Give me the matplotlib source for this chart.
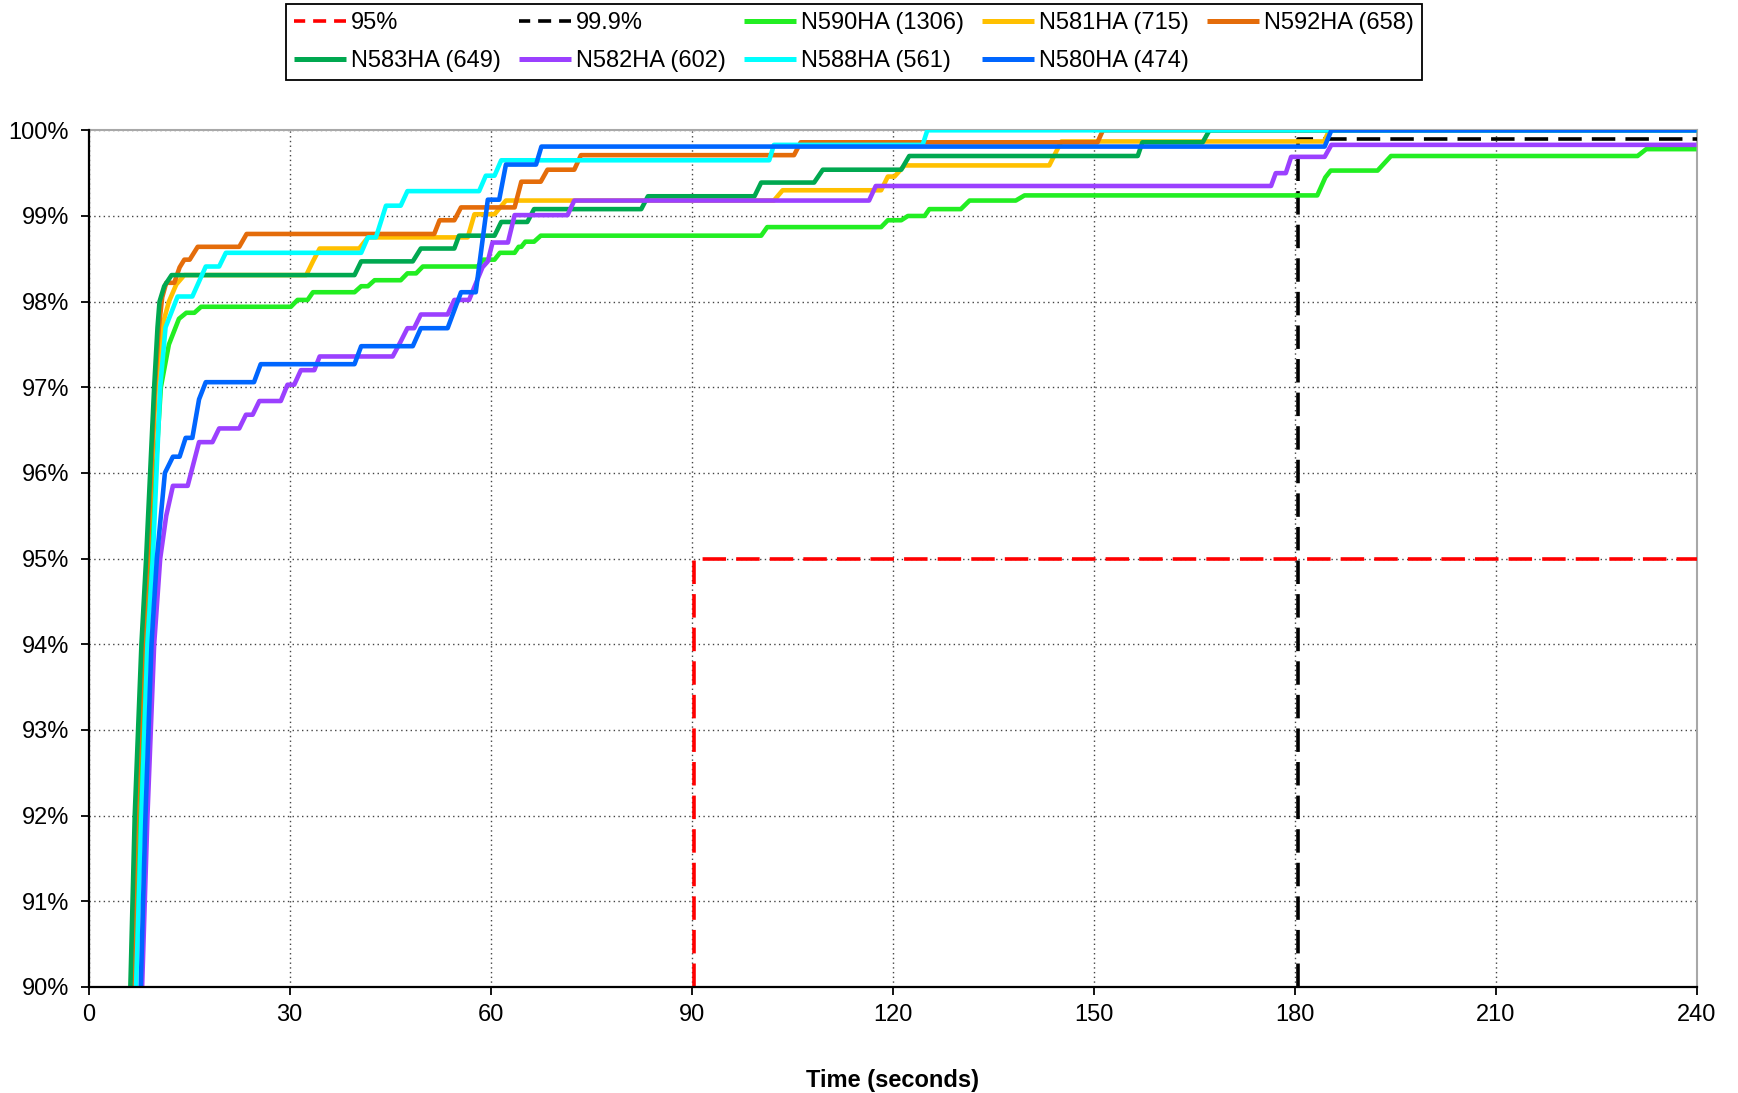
import matplotlib
matplotlib.use("Agg")
import matplotlib.pyplot as plt
from matplotlib import font_manager

try:
    font_manager.findfont('Liberation Sans Narrow', fallback_to_default=False)
    FAM = ['Liberation Sans Narrow', 'DejaVu Sans']
    FS = 20
except Exception:
    FAM = ['Liberation Sans', 'DejaVu Sans']
    FS = 17
plt.rcParams['font.family'] = FAM

# ---------------- data ----------------
x_ticks = [0, 30, 60, 90, 120, 150, 180, 210, 240]
y_ticks = [90, 91, 92, 93, 94, 95, 96, 97, 98, 99, 100]
y_tick_labels = ['90%', '91%', '92%', '93%', '94%', '95%', '96%', '97%', '98%', '99%', '100%']
x_label = 'Time (seconds)'

ref95_label = '95%'
ref95_time = 90.4
ref95_level = 95
ref999_label = '99.9%'
ref999_time = 180.5
ref999_level = 99.9

n590_label = 'N590HA (1306)'
n590_t = [6.9, 7.7, 8.6, 9.4, 10.0, 10.8, 12.0, 13.5, 14.6, 15.8, 16.8, 30.2, 31.2, 32.7, 33.5, 39.7,
          40.7, 41.7, 42.7, 46.6, 47.6, 48.9, 49.9, 58.1, 58.9, 60.6, 61.4, 63.6, 64.2, 64.6, 65.2, 66.5,
          67.5, 100.4, 101.3, 118.3, 119.3, 121.3, 122.3, 124.8, 125.5, 130.2, 131.5, 138.4, 139.7,
          183.4, 184.6, 185.4, 192.4, 194.4, 231.2, 232.5, 240]
n590_v = [90, 92, 94, 95, 96, 97, 97.5, 97.8, 97.87, 97.87, 97.94, 97.94, 98.02, 98.02, 98.11, 98.11,
          98.18, 98.18, 98.25, 98.25, 98.33, 98.33, 98.41, 98.41, 98.49, 98.49, 98.57, 98.57, 98.64, 98.64, 98.7, 98.7,
          98.77, 98.77, 98.87, 98.87, 98.95, 98.95, 99.0, 99.0, 99.08, 99.08, 99.18, 99.18, 99.24,
          99.24, 99.45, 99.53, 99.53, 99.7, 99.7, 99.78, 99.78]

n581_label = 'N581HA (715)'
n581_t = [6.35, 7.05, 8.05, 8.8, 9.4, 10.05, 11.1, 12.0, 13.1, 14.3, 32.5, 33.5, 34.5, 40.4, 41.7, 56.6,
          57.6, 60.6, 62.3, 102.3, 103.6, 118.3, 119.3, 120.3, 121.8, 143.4, 145.2, 184.4, 185.2, 240]
n581_v = [90, 92, 94, 95, 96, 97, 97.74, 98.0, 98.2, 98.31, 98.31, 98.47, 98.62, 98.62, 98.75, 98.75,
          99.02, 99.02, 99.18, 99.18, 99.3, 99.3, 99.46, 99.46, 99.59, 99.59, 99.87, 99.87, 100, 100]

n592_label = 'N592HA (658)'
n592_t = [6.45, 7.1, 8.1, 8.8, 9.35, 9.9, 10.5, 11.0, 11.6, 12.8, 13.6, 14.3, 15.1, 16.3, 22.5, 23.6,
          51.6, 52.4, 54.6, 55.6, 63.6, 64.6, 67.5, 68.5, 72.5, 73.5, 105.3, 106.3, 150.6, 151.4, 240]
n592_v = [90, 92, 94, 95, 96, 97, 97.7, 98.05, 98.22, 98.22, 98.4, 98.49, 98.49, 98.64, 98.64, 98.79,
          98.79, 98.95, 98.95, 99.1, 99.1, 99.4, 99.4, 99.54, 99.54, 99.71, 99.71, 99.86, 99.86, 100, 100]

n583_label = 'N583HA (649)'
n583_t = [6.25, 6.9, 7.9, 8.6, 9.2, 9.8, 10.3, 10.6, 11.3, 12.4, 39.7, 40.7, 48.4, 49.6, 54.6, 55.3,
          60.6, 61.6, 65.5, 66.5, 82.5, 83.5, 99.4, 100.4, 108.3, 109.6, 121.3, 122.5, 156.6, 157.3,
          166.3, 167.3, 240]
n583_v = [90, 92, 94, 95, 96, 97, 97.7, 98, 98.18, 98.31, 98.31, 98.47, 98.47, 98.62, 98.62, 98.77,
          98.77, 98.93, 98.93, 99.08, 99.08, 99.23, 99.23, 99.39, 99.39, 99.54, 99.54, 99.7, 99.7, 99.86,
          99.86, 100, 100]

n582_label = 'N582HA (602)'
n582_t = [8.0, 8.8, 9.8, 10.7, 11.6, 12.6, 14.8, 15.3, 16.5, 18.5, 19.5, 22.5, 23.5, 24.5, 25.5, 28.7,
          29.7, 30.7, 31.7, 33.7, 34.5, 45.4, 46.5, 47.6, 48.6, 49.6, 53.6, 54.6, 56.8, 58.8, 59.6, 60.3,
          62.6, 63.6, 71.5, 72.5, 116.5, 117.5, 176.5, 177.2, 178.7, 179.5, 184.5, 185.5, 240]
n582_v = [90, 92, 94, 95, 95.5, 95.85, 95.85, 96.0, 96.36, 96.36, 96.52, 96.52, 96.68, 96.68, 96.84, 96.84,
          97.03, 97.03, 97.2, 97.2, 97.36, 97.36, 97.52, 97.69, 97.69, 97.85, 97.85, 98.02, 98.02, 98.4, 98.47, 98.69,
          98.69, 99.01, 99.01, 99.18, 99.18, 99.35, 99.35, 99.5, 99.5, 99.69, 99.69, 99.83, 99.83]

n588_label = 'N588HA (561)'
n588_t = [7.1, 7.9, 8.8, 9.6, 10.15, 10.7, 11.5, 13.3, 15.5, 17.5, 19.5, 20.5, 40.7, 41.7, 42.9, 44.4,
          46.6, 47.6, 58.3, 59.3, 60.6, 61.6, 101.6, 102.3, 124.5, 125.2, 240]
n588_v = [90, 92, 94, 95, 96, 97, 97.7, 98.06, 98.06, 98.41, 98.41, 98.57, 98.57, 98.75, 98.75, 99.12,
          99.12, 99.29, 99.29, 99.47, 99.47, 99.65, 99.65, 99.83, 99.83, 100, 100]

n580_label = 'N580HA (474)'
n580_t = [7.8, 8.5, 9.4, 10.2, 11.4, 12.6, 13.6, 14.5, 15.5, 16.5, 17.5, 24.7, 25.7, 39.7, 40.7, 48.4,
          49.6, 53.6, 55.6, 57.8, 59.6, 61.3, 62.3, 66.8, 67.6, 184.5, 185.5, 240]
n580_v = [90, 92, 94, 95, 96, 96.19, 96.19, 96.41, 96.41, 96.86, 97.06, 97.06, 97.27, 97.27, 97.48, 97.48,
          97.69, 97.69, 98.11, 98.11, 99.19, 99.19, 99.6, 99.6, 99.81, 99.81, 100, 100]

series = [
    (n590_label, n590_t, n590_v, '#22ee22'),
    (n581_label, n581_t, n581_v, '#ffc000'),
    (n592_label, n592_t, n592_v, '#e46c0a'),
    (n583_label, n583_t, n583_v, '#00a850'),
    (n582_label, n582_t, n582_v, '#9b40ff'),
    (n588_label, n588_t, n588_v, '#00ffff'),
    (n580_label, n580_t, n580_v, '#0066ff'),
]

# ---------------- figure ----------------
W, H = 1738, 1093
fig = plt.figure(figsize=(W / 100, H / 100), dpi=100)
ax = fig.add_axes([88.5 / W, 1 - 987 / H, (1696.5 - 88.5) / W, (987 - 130.3) / H])

ax.set_xlim(x_ticks[0], x_ticks[-1])
ax.set_ylim(y_ticks[0], y_ticks[-1])

dash = (0, (6.5, 2.8))
h95, = ax.plot([ref95_time, ref95_time, x_ticks[-1]], [y_ticks[0], ref95_level, ref95_level],
               color='#ff0000', lw=2.6, linestyle=dash, zorder=3, label=ref95_label)
h999, = ax.plot([ref999_time, ref999_time, x_ticks[-1]], [y_ticks[0], ref999_level, ref999_level],
                color='#000000', lw=2.6, linestyle=dash, zorder=3, label=ref999_label)

handles = {}
for i, (lab, t, v, c) in enumerate(series):
    h, = ax.plot(t, v, color=c, lw=3.3, solid_capstyle='butt', solid_joinstyle='round',
                 zorder=4 + i, label=lab)
    handles[lab] = h

ax.set_xticks(x_ticks)
ax.set_xticklabels([str(x) for x in x_ticks])
ax.set_yticks(y_ticks)
ax.set_yticklabels(y_tick_labels)
ax.tick_params(axis='both', direction='out', length=6, width=1.3, labelsize=FS, colors='black')
ax.tick_params(axis='y', pad=8)
ax.tick_params(axis='x', pad=6)

ax.grid(True, linestyle=(0, (1, 2.4)), color='#444444', lw=1.0, zorder=1)
ax.set_axisbelow(True)

for s in ['left', 'bottom']:
    ax.spines[s].set_color('black')
    ax.spines[s].set_linewidth(1.6)
    ax.spines[s].set_zorder(20)
for s in ['top', 'right']:
    ax.spines[s].set_color('#a8a8a8')
    ax.spines[s].set_linewidth(1.5)

ax.set_xlabel(x_label, fontsize=FS, fontweight='bold', labelpad=31)

order = [h95, handles[n583_label], h999, handles[n582_label], handles[n590_label],
         handles[n588_label], handles[n581_label], handles[n580_label], handles[n592_label]]
leg = fig.legend(order, [h.get_label() for h in order], ncol=5,
                 loc='upper left', bbox_to_anchor=(286 / W, 1 - 4 / H),
                 bbox_transform=fig.transFigure, fontsize=FS, frameon=True, fancybox=False,
                 edgecolor='black', framealpha=1, borderpad=0.35, handlelength=2.2,
                 handletextpad=0.2, columnspacing=0.78, labelspacing=0.66, borderaxespad=0)
leg.get_frame().set_linewidth(1.3)
leg_lines = leg.get_lines()
for lh in leg_lines:
    lh.set_linewidth(3.6)
for lh in leg_lines[:3:2]:
    lh.set_linestyle((0.5, (3.6, 2.2)))
    lh.set_linewidth(2.6)

fig.savefig('out.png', dpi=100)
